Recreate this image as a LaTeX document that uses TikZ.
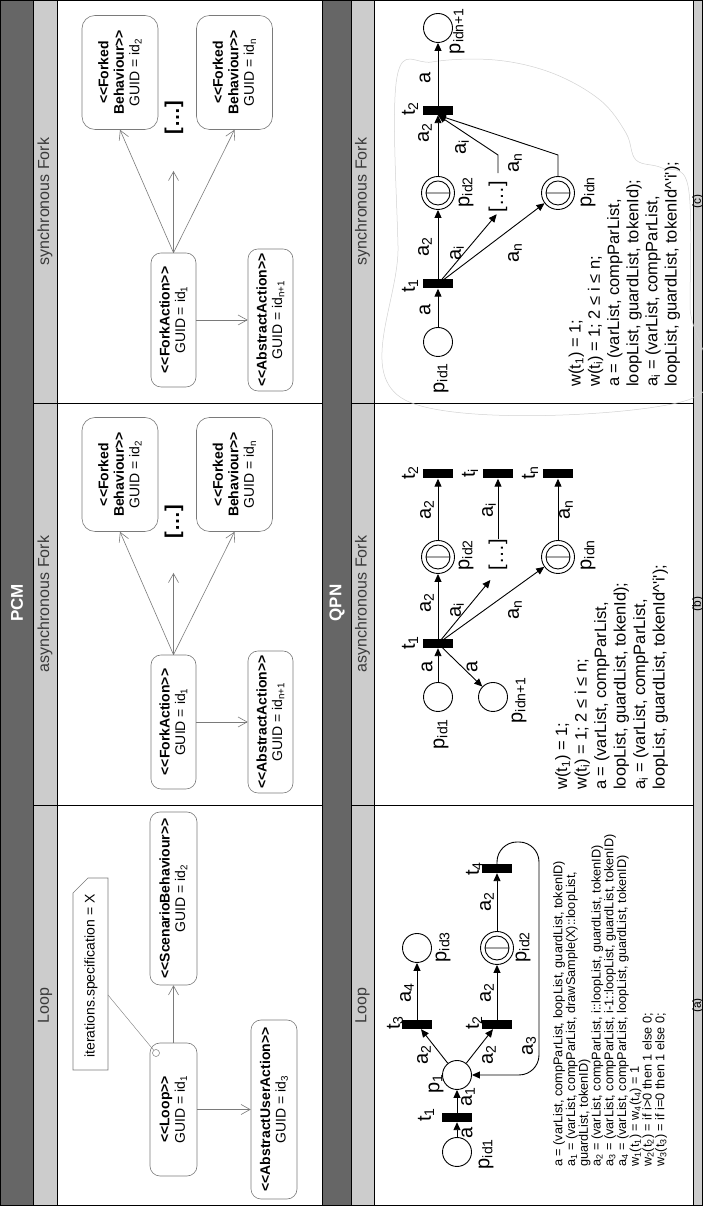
\documentclass[tikz,border=0pt]{standalone}
\usepackage{fontspec}
\setmainfont{Liberation Sans}
\usetikzlibrary{arrows.meta,calc}

\definecolor{darkband}{HTML}{666666}
\definecolor{lightband}{HTML}{CCCCCC}
\definecolor{umlgray}{HTML}{7A7A7A}
\definecolor{headtext}{HTML}{3A3A3A}
\definecolor{sketch}{HTML}{D2D2D2}

\newcommand{\sbs}[1]{\textsubscript{#1}}
% stereotype brackets, kept as two separate signs
\newcommand{\stl}{<\kern0pt<}
\newcommand{\str}{>\kern0pt>}

\tikzset{
  frameline/.style={draw=black, line width=0.8pt},
  bandtitle/.style={text=white, font=\fontsize{17}{17}\selectfont\bfseries, inner sep=0},
  colhead/.style={text=headtext, font=\fontsize{16}{16}\selectfont, inner sep=0},
  pcmbox/.style={draw=umlgray, fill=white, rounded corners=10pt, line width=0.6pt,
                 align=center, font=\fontsize{14}{15.5}\selectfont, inner sep=2pt},
  uml/.style={draw=umlgray, line width=0.6pt, -{Straight Barb[length=9pt,width=10pt]}},
  notebox/.style={draw=umlgray, fill=white, line width=0.6pt},
  plc/.style={circle, draw=black, line width=0.9pt, fill=white, minimum size=29pt, inner sep=0},
  qplc/.style={circle, draw=black, line width=0.9pt, fill=white, minimum size=33pt, inner sep=0},
  qinner/.style={draw=black, line width=0.9pt},
  trans/.style={rectangle, fill=black, minimum width=9pt, minimum height=30pt, inner sep=0},
  qarc/.style={draw=black, line width=0.9pt, -{Triangle[length=8pt,width=7pt]}},
  lbl/.style={font=\fontsize{20}{20}\selectfont, inner sep=0},
  pcmdots/.style={font=\fontsize{20}{20}\selectfont\bfseries, inner sep=0},
  inscr/.style={align=left, inner sep=0, anchor=north west, font=\fontsize{16.5}{19.5}\selectfont},
  capt/.style={anchor=north, inner sep=0, font=\fontsize{12}{12}\selectfont},
}

\begin{document}
\begin{tikzpicture}[x=1pt, y=-1pt, rotate=90, transform shape]
\useasboundingbox (0,0) rectangle (1206,703);

% ---------- bands and frame ----------
\fill[white] (0,0) rectangle (1206,703);
\fill[darkband] (0,0) rectangle (1206,33);
\fill[lightband] (0,33) rectangle (1206,57);
\fill[darkband] (0,322) rectangle (1206,351);
\fill[lightband] (0,351) rectangle (1206,374);
\fill[lightband] (0,693) rectangle (1206,703);
\draw[frameline] (0,33) -- (1206,33);
\draw[frameline] (0,57) -- (1206,57);
\draw[frameline] (0,322) -- (1206,322);
\draw[frameline] (0,351) -- (1206,351);
\draw[frameline] (0,374) -- (1206,374);
\draw[frameline] (0,693) -- (1206,693);
\draw[frameline] (401,33) -- (401,322);
\draw[frameline] (803,33) -- (803,322);
\draw[frameline] (401,351) -- (401,693);
\draw[frameline] (803,351) -- (803,693);
\draw[frameline] (0.5,0.5) rectangle (1205.5,702.5);

\node[bandtitle] (pcm) at (603,17) {PCM};
\node[bandtitle] (qpn) at (603,337) {QPN};
\node[colhead] (h1) at (200.5,45) {Loop};
\node[colhead] (h2) at (602,45) {asynchronous Fork};
\node[colhead] (h3) at (1004.5,45) {synchronous Fork};
\node[colhead] (h4) at (200.5,362.5) {Loop};
\node[colhead] (h5) at (602,362.5) {asynchronous Fork};
\node[colhead] (h6) at (1004.5,362.5) {synchronous Fork};
\node[capt] (capa) at (200.5,692) {(a)};
\node[capt] (capb) at (602,692) {(b)};
\node[capt] (capc) at (1004.5,692) {(c)};

% ---------- PCM: loop ----------
\draw[notebox] (136,73) -- (313,73) -- (328,88) -- (328,108) -- (136,108) -- cycle;
\node[inner sep=0, font=\fontsize{14}{14}\selectfont] (notetext) at (230,91) {iterations.specification = X};
\coordinate (notefoot) at (211,108);
\node[pcmbox, minimum width=133pt, minimum height=47pt] (loop) at (96.5,173.5)
  {\textbf{\stl Loop\str}\\GUID = id\sbs{1}};
\node[pcmbox, minimum width=173pt, minimum height=47pt] (sb) at (307.5,173.5)
  {\textbf{\stl ScenarioBehaviour\str}\\GUID = id\sbs{2}};
\node[pcmbox, minimum width=179pt, minimum height=46pt] (aua) at (96.5,274)
  {\textbf{\stl AbstractUserAction\str}\\GUID = id\sbs{3}};
\node[circle, draw=umlgray, fill=white, line width=0.5pt, minimum size=7pt, inner sep=0] (loopmark) at (153,156) {};
\draw[draw=umlgray, line width=0.4pt] (notefoot) -- (loopmark);
\draw[uml] (loop.east) -- (sb.west);
\draw[uml] (loop.south) -- (aua.north);

% ---------- PCM: asynchronous fork ----------
\node[pcmbox, minimum width=134pt, minimum height=45pt] (afa) at (484,173.5)
  {\textbf{\stl ForkAction\str}\\GUID = id\sbs{1}};
\node[pcmbox, minimum width=142pt, minimum height=45pt] (aaa) at (484,270.5)
  {\textbf{\stl AbstractAction\str}\\GUID = id\sbs{n+1}};
\node[pcmbox, rounded corners=13pt, minimum width=114pt, minimum height=76pt] (afb2) at (731.5,120)
  {\textbf{\stl Forked}\\\textbf{Behaviour\str}\\GUID = id\sbs{2}};
\node[pcmbox, rounded corners=13pt, minimum width=114pt, minimum height=76pt] (afbn) at (731.5,234.5)
  {\textbf{\stl Forked}\\\textbf{Behaviour\str}\\GUID = id\sbs{n}};
\node[pcmdots] (adots) at (684,174) {[\ldots]};
\coordinate (amid) at (633,173.5);
\draw[uml] (afa.east) -- (afb2.west);
\draw[uml] (afa.east) -- (amid);
\draw[uml] (afa.east) -- (afbn.west);
\draw[uml] (afa.south) -- (aaa.north);

% ---------- PCM: synchronous fork ----------
\node[pcmbox, minimum width=134pt, minimum height=45pt] (sfa) at (886,173.5)
  {\textbf{\stl ForkAction\str}\\GUID = id\sbs{1}};
\node[pcmbox, minimum width=142pt, minimum height=45pt] (saa) at (886,270.5)
  {\textbf{\stl AbstractAction\str}\\GUID = id\sbs{n+1}};
\node[pcmbox, rounded corners=13pt, minimum width=114pt, minimum height=76pt] (sfb2) at (1133.5,120)
  {\textbf{\stl Forked}\\\textbf{Behaviour\str}\\GUID = id\sbs{2}};
\node[pcmbox, rounded corners=13pt, minimum width=114pt, minimum height=76pt] (sfbn) at (1133.5,234.5)
  {\textbf{\stl Forked}\\\textbf{Behaviour\str}\\GUID = id\sbs{n}};
\node[pcmdots] (sdots) at (1088,174) {[\ldots]};
\coordinate (smid) at (1035,173.5);
\draw[uml] (sfa.east) -- (sfb2.west);
\draw[uml] (sfa.east) -- (smid);
\draw[uml] (sfa.east) -- (sfbn.west);
\draw[uml] (sfa.south) -- (saa.north);

% ---------- QPN: loop ----------
\node[plc] (lpid1) at (54,457) {};
\node[trans] (lt1) at (88.5,457) {};
\node[plc] (lp1) at (131,457) {};
\node[trans] (lt3) at (181.5,417) {};
\node[trans] (lt2) at (181.5,497) {};
\node[plc] (lpid3) at (258,417) {};
\node[qplc] (lpid2) at (258,497) {};
\draw[qinner] (lpid2.center) circle[radius=12pt] ($(lpid2.center)+(0,-12)$) -- ($(lpid2.center)+(0,12)$);
\node[trans] (lt4) at (337.5,497) {};

\draw[qarc] (lpid1) -- (lt1);
\draw[qarc] (lt1) -- (lp1);
\draw[qarc] (lp1) -- ($(lt3.west)+(0,4)$);
\draw[qarc] (lp1) -- ($(lt2.west)+(0,-4)$);
\draw[qarc] (lt3) -- (lpid3);
\draw[qarc] (lt2) -- (lpid2);
\draw[qarc] (lpid2) -- (lt4);
\draw[qarc, rounded corners=20pt] (lt4.east) -- (364,497) -- (364,539) -- (131,539) -- (lp1.south);

\node[lbl] (la0) at (73,467) {a};
\node[lbl] (lt1l) at (91,426) {t\sbs{1}};
\node[lbl] (la1) at (109,468) {a\sbs{1}};
\node[lbl] (lp1l) at (122,436) {p\sbs{1}};
\node[lbl] (la2a) at (151,424) {a\sbs{2}};
\node[lbl] (la2b) at (151,489) {a\sbs{2}};
\node[lbl] (lt3l) at (183,395) {t\sbs{3}};
\node[lbl] (lt2l) at (183,474) {t\sbs{2}};
\node[lbl] (la4) at (213,407) {a\sbs{4}};
\node[lbl] (la2c) at (213,487) {a\sbs{2}};
\node[lbl] (lpid3l) at (259,443) {p\sbs{id3}};
\node[lbl] (lpid2l) at (259,523) {p\sbs{id2}};
\node[lbl] (lpid1l) at (52,486) {p\sbs{id1}};
\node[lbl] (la2d) at (304,487) {a\sbs{2}};
\node[lbl] (lt4l) at (337,474) {t\sbs{4}};
\node[lbl] (la3) at (160,529) {a\sbs{3}};

\node[inscr, font=\fontsize{12.7}{12.75}\selectfont] (ltext) at (39,553) {%
a = (varList, compParList, loopList, guardList, tokenID)\\
a\sbs{1} = (varList, compParList, drawSample(X)::loopList,\\
guardList, tokenID)\\
a\sbs{2} = (varList, compParList, i::loopList, guardList, tokenID)\\
a\sbs{3} = (varList, compParList, i-1::loopList, guardList, tokenID)\\
a\sbs{4} = (varList, compParList, loopList, guardList, tokenID)\\
w\sbs{1}(t\sbs{1}) = w\sbs{4}(t\sbs{4}) = 1\\
w\sbs{2}(t\sbs{2}) = if i>0 then 1 else 0;\\
w\sbs{3}(t\sbs{3}) = if i=0 then 1 else 0;};

% ---------- QPN: asynchronous fork ----------
\node[plc] (apid1) at (509,438) {};
\node[trans] (at1) at (562.5,438) {};
\node[qplc] (apid2) at (649,438) {};
\draw[qinner] (apid2.center) circle[radius=12pt] ($(apid2.center)+(0,-12)$) -- ($(apid2.center)+(0,12)$);
\node[lbl] (adotsq) at (651,498) {[\ldots]};
\node[qplc] (apidn) at (649,558) {};
\draw[qinner] (apidn.center) circle[radius=12pt] ($(apidn.center)+(0,-12)$) -- ($(apidn.center)+(0,12)$);
\node[plc] (apidn1) at (509,493) {};
\node[trans] (at2) at (732,438) {};
\node[trans] (ati) at (732,498) {};
\node[trans] (atn) at (732,558) {};

\draw[qarc] (apid1) -- (at1);
\draw[qarc] (at1) -- (apid2);
\draw[qarc, shorten >=12pt] (at1.center) -- (adotsq.west);
\draw[qarc] (at1.center) -- (apidn);
\draw[qarc] (at1.center) -- (apidn1);
\draw[qarc] (apid2) -- (at2);
\draw[qarc] (adotsq.east) -- (ati);
\draw[qarc] (apidn) -- (atn);

\node[lbl] (apid1l) at (472,441) {p\sbs{id1}};
\node[lbl] (aa0) at (539,427) {a};
\node[lbl] (at1l) at (563,410) {t\sbs{1}};
\node[lbl] (aa2) at (603,427) {a\sbs{2}};
\node[lbl] (aai) at (596,457) {a\sbs{i}};
\node[lbl] (aan) at (596,515) {a\sbs{n}};
\node[lbl] (aa1) at (539,472) {a};
\node[lbl] (apid2l) at (651,466) {p\sbs{id2}};
\node[lbl] (apidnl) at (651,588) {p\sbs{idn}};
\node[lbl] (apidn1l) at (506,519) {p\sbs{idn+1}};
\node[lbl] (aa2b) at (696,427) {a\sbs{2}};
\node[lbl] (aaib) at (696,489) {a\sbs{i}};
\node[lbl] (aanb) at (696,566) {a\sbs{n}};
\node[lbl] (at2l) at (733,410) {t\sbs{2}};
\node[lbl] (atil) at (733,470) {t\sbs{i}};
\node[lbl] (atnl) at (733,530) {t\sbs{n}};

\node[inscr] (atext) at (416,555) {%
w(t\sbs{1}) = 1;\\
w(t\sbs{i}) = 1; 2 ≤ i ≤ n;\\
a = (varList, compParList,\\
loopList, guardList, tokenId);\\
a\sbs{i} = (varList, compParList,\\
loopList, guardList, tokenId\textasciicircum\textquotesingle i\textquotesingle);};

% ---------- QPN: synchronous fork ----------
\draw[sketch, line width=0.5pt] plot[smooth cycle, tension=0.6] coordinates
  {(806,405) (960,398) (1129,397) (1144,432) (1146,495) (1133,552) (1106,600)
   (1073,626) (1046,636) (1038,662) (1020,688) (900,690) (806,688)};

\node[plc] (spid1) at (864,438) {};
\node[trans] (st1) at (922,438) {};
\node[qplc] (spid2) at (1013,438) {};
\draw[qinner] (spid2.center) circle[radius=12pt] ($(spid2.center)+(0,-12)$) -- ($(spid2.center)+(0,12)$);
\node[lbl] (sdotsq) at (1009,498) {[\ldots]};
\node[qplc] (spidn) at (1013,558) {};
\draw[qinner] (spidn.center) circle[radius=12pt] ($(spidn.center)+(0,-12)$) -- ($(spidn.center)+(0,12)$);
\node[trans] (st2) at (1095.5,438) {};
\node[plc] (spidn1) at (1178,438) {};
\coordinate (sbendi) at (1051,498);
\coordinate (sbendn) at (1051,558);

\draw[qarc] (spid1) -- (st1);
\draw[qarc] (st1) -- (spid2);
\draw[qarc, shorten >=2pt] (st1.center) -- (sdotsq.west);
\draw[qarc] (st1.center) -- (spidn);
\draw[qarc] (spid2) -- (st2);
\draw[qarc, shorten <=8pt] (sdotsq.east) -- (sbendi) -- (st2.west);
\draw[qarc] (spidn.east) -- (sbendn) -- (st2.west);
\draw[qarc] (st2) -- (spidn1);

\node[lbl] (spid1l) at (828,441) {p\sbs{id1}};
\node[lbl] (sa0) at (896,425) {a};
\node[lbl] (st1l) at (920,410) {t\sbs{1}};
\node[lbl] (sa2) at (959,425) {a\sbs{2}};
\node[lbl] (sai) at (953,457) {a\sbs{i}};
\node[lbl] (san) at (953,515) {a\sbs{n}};
\node[lbl] (spid2l) at (1014,466) {p\sbs{id2}};
\node[lbl] (spidnl) at (1014,588) {p\sbs{idn}};
\node[lbl] (sa2b) at (1073,425) {a\sbs{2}};
\node[lbl] (saib) at (1059,462) {a\sbs{i}};
\node[lbl] (sanb) at (1043,515) {a\sbs{n}};
\node[lbl] (st2l) at (1097,410) {t\sbs{2}};
\node[lbl] (sa1) at (1128,425) {a};
\node[lbl] (spidn1l) at (1175,457) {p\sbs{idn+1}};

\node[inscr, font=\fontsize{16.5}{19.2}\selectfont] (stext) at (819,568.5) {%
w(t\sbs{1}) = 1;\\
w(t\sbs{i}) = 1; 2 ≤ i ≤ n;\\
a = (varList, compParList,\\
loopList, guardList, tokenId);\\
a\sbs{i} = (varList, compParList,\\
loopList, guardList, tokenId\textasciicircum\textquotesingle i\textquotesingle);};
\end{tikzpicture}
\end{document}
